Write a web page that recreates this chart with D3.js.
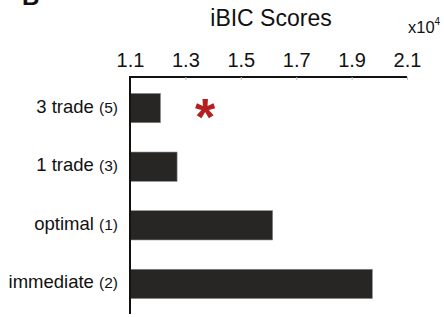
<!DOCTYPE html>
<html><head><meta charset="utf-8">
<script src="https://cdn.jsdelivr.net/npm/d3@7"></script>
<style>body{margin:0;background:#fff}svg{display:block;font-family:"Liberation Sans",Arial,sans-serif}</style>
</head><body><svg id="c" width="444" height="317"></svg>
<script>
const categories = ["3 trade", "1 trade", "optimal", "immediate"];
const counts = ["(5)", "(3)", "(1)", "(2)"];
const scores = [1.21, 1.27, 1.615, 1.975];
const tickValues = [1.1, 1.3, 1.5, 1.7, 1.9, 2.1];
const starCategory = "3 trade";

const svg = d3.select("#c");
const x = d3.scaleLinear().domain([1.1, 2.1]).range([130, 407]);
const y = d3.scaleBand().domain(categories).range([77, 315]).paddingInner(0.5).paddingOuter(0.28);

// panel letter (clipped at top, as in the reference)
svg.append("text").attr("x", 22).attr("y", 5).attr("font-size", 24).attr("font-weight", "bold").attr("fill", "#111").text("B");

// title
svg.append("text").attr("x", 271).attr("y", 26).attr("text-anchor", "middle").attr("font-size", 23).attr("fill", "#111").text("iBIC Scores");
const ex = svg.append("text").attr("x", 408).attr("y", 33).attr("font-size", 16.5).attr("fill", "#111");
ex.append("tspan").text("x10");
ex.append("tspan").attr("font-size", 10).attr("dy", -8).text("4");

// bars
svg.selectAll("rect.bar").data(categories).join("rect")
  .attr("class", "bar")
  .attr("x", x(1.1))
  .attr("y", d => y(d))
  .attr("height", y.bandwidth())
  .attr("width", (d, i) => x(scores[i]) - x(1.1))
  .attr("fill", "#272625")
  .attr("stroke", "#8a8a8a").attr("stroke-width", 0.6);

// top axis
const gx = svg.append("g").attr("transform", "translate(0,77)")
  .call(d3.axisTop(x).tickValues(tickValues).tickSize(-3).tickPadding(10).tickFormat(d3.format(".1f")));
gx.select(".domain").attr("stroke", "#111").attr("stroke-width", 2).attr("d", "M130,0H407");
gx.selectAll(".tick line").attr("stroke", "#bbb").attr("stroke-width", 1);
gx.selectAll(".tick text").attr("font-size", 20).attr("fill", "#111").attr("font-family", "Liberation Sans, Arial, sans-serif");

// left axis line
svg.append("line").attr("x1", 130).attr("x2", 130).attr("y1", 76).attr("y2", 314).attr("stroke", "#111").attr("stroke-width", 2);

// category labels
const lab = svg.selectAll("text.lab").data(categories).join("text")
  .attr("class", "lab")
  .attr("x", 118)
  .attr("y", d => y(d) + y.bandwidth() / 2 + 4.5)
  .attr("text-anchor", "end")
  .attr("fill", "#111");
lab.append("tspan").attr("font-size", 18.5).text(d => d + " ");
lab.append("tspan").attr("font-size", 15.5).text((d, i) => counts[i]);

// significance star
svg.append("text").attr("x", 205).attr("y", y(starCategory) + y.bandwidth() / 2 + 27)
  .attr("text-anchor", "middle").attr("font-size", 52).attr("font-weight", "bold").attr("fill", "#b3201e").text("*");
</script></body></html>
